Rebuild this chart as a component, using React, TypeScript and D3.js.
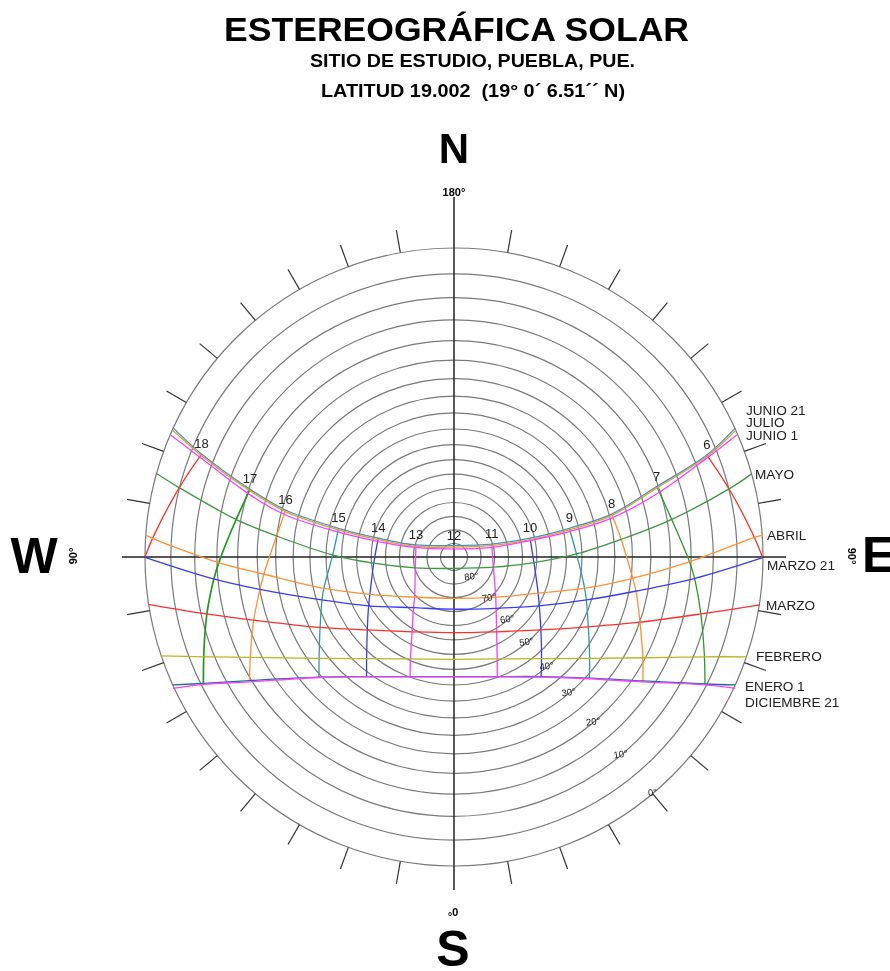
import { curveBasis, curveCatmullRom, line, scaleLinear, select } from 'd3';
import React, { useEffect, useRef } from 'react';

// [hour, x, y], in projection units (outer circle = 100)
// hour is null where the curve just ends on the rim
type Pt = [number | null, number, number];

const junio21: Pt[] = [
  [null, 91.0, 41.7], [6, 81.8, 33.0], [7, 65.6, 22.8], [8, 51.0, 13.9], [9, 37.3, 9.3],
  [10, 24.6, 6.1], [11, 12.2, 4.2], [12, 0, 3.7], [13, -12.3, 3.9], [14, -24.5, 6.1],
  [15, -37.4, 9.3], [16, -54.5, 15.2], [17, -66.0, 21.9], [18, -81.7, 33.3], [null, -90.8, 41.7],
];
const julio: Pt[] = [
  [null, 91.2, 41.0], [6, 81.8, 32.5], [7, 65.6, 22.3], [8, 51.0, 13.4], [9, 37.3, 8.8],
  [10, 24.6, 5.6], [11, 12.2, 3.7], [12, 0, 3.2], [13, -12.3, 3.4], [14, -24.5, 5.6],
  [15, -37.4, 8.8], [16, -54.5, 14.7], [17, -66.0, 21.4], [18, -81.7, 32.8], [null, -91.0, 41.0],
];
const junio1: Pt[] = [
  [null, 91.5, 39.5], [6, 81.8, 32.0], [7, 66.1, 20.7], [8, 51.0, 12.6], [9, 37.3, 8.2],
  [10, 24.6, 5.3], [11, 12.2, 3.1], [12, 0, 2.6], [13, -12.6, 3.1], [14, -24.5, 5.0],
  [15, -38.0, 8.2], [16, -54.5, 13.6], [17, -66.0, 20.1], [18, -82.2, 32.3], [null, -91.7, 39.5],
];
const mayo: Pt[] = [
  [null, 96.3, 26.9], [6, 89.3, 22.2], [7, 70.5, 12.2], [8, 54.3, 5.8], [9, 39.7, 1.0],
  [10, 25.9, -1.8], [11, 12.7, -3.3], [12, 0, -3.7], [13, -12.6, -3.5], [14, -26.1, -2.0],
  [15, -39.1, 0.6], [16, -57.4, 6.8], [17, -70.6, 12.2], [18, -89.2, 22.6], [null, -96.4, 27.1],
];
const abril: Pt[] = [
  [null, 99.9, 7.1], [6, 97.4, 6.4], [7, 76.4, -1.5], [8, 57.8, -6.9], [9, 42.4, -10.1],
  [10, 27.3, -11.7], [11, 13.6, -13.0], [12, 0, -13.4], [13, -12.6, -13.0], [14, -27.2, -12.1],
  [15, -42.3, -10.1], [16, -61.7, -5.5], [17, -76.3, -1.8], [18, -97.8, 6.1], [null, -99.8, 7.1],
];
const marzo21: Pt[] = [
  [6, 99.9, -0.2], [7, 78.0, -6.9], [8, 59.1, -11.0], [9, 42.9, -13.9], [10, 27.6, -15.8],
  [11, 13.6, -16.6], [12, 0, -16.9], [13, -13.2, -16.4], [14, -27.7, -15.8], [15, -42.8, -13.9],
  [16, -62.8, -10.5], [17, -77.8, -7.1], [18, -100.0, -0.1],
];
const marzo: Pt[] = [
  [null, 99.0, -15.5], [7, 80.1, -18.4], [8, 60.2, -21.1], [9, 43.5, -22.6], [10, 28.2, -23.6],
  [11, 13.8, -24.2], [12, 0, -24.5], [13, -13.5, -24.2], [14, -28.1, -23.6], [15, -43.4, -22.8],
  [16, -65.1, -20.4], [17, -80.3, -18.4], [null, -98.9, -15.3],
];
const febrero: Pt[] = [
  [null, 94.7, -32.3], [7, 81.2, -32.3], [8, 61.3, -32.6], [9, 44.0, -32.8], [10, 28.4, -32.9],
  [11, 14.0, -33.0], [12, 0, -33.1], [13, -14.2, -33.0], [14, -28.3, -32.9], [15, -43.7, -32.8],
  [16, -66.0, -32.5], [17, -81.1, -32.3], [null, -94.9, -32.0],
];
const enero1: Pt[] = [
  [null, 91.0, -41.4], [7, 81.2, -41.1], [8, 61.1, -40.1], [9, 43.8, -39.2], [10, 28.2, -38.7],
  [11, 14.0, -38.7], [12, 0, -38.7], [13, -14.2, -38.7], [14, -28.3, -38.7], [15, -43.7, -38.9],
  [16, -66.2, -40.0], [17, -81.1, -40.9], [null, -91.0, -41.4],
];
const diciembre21: Pt[] = [
  [null, 91.0, -42.5], [7, 81.2, -41.4], [8, 61.1, -40.4], [9, 43.8, -39.4], [10, 28.2, -38.9],
  [11, 14.0, -38.8], [12, 0, -38.8], [13, -14.2, -38.8], [14, -28.3, -38.8], [15, -43.7, -39.0],
  [16, -66.2, -40.4], [17, -81.1, -41.2], [null, -91.0, -42.5],
];

const monthNames = ['JUNIO 21', 'JULIO', 'JUNIO 1', 'MAYO', 'ABRIL', 'MARZO 21', 'MARZO', 'FEBRERO', 'ENERO 1', 'DICIEMBRE 21'];
const monthCurves = [junio21, julio, junio1, mayo, abril, marzo21, marzo, febrero, enero1, diciembre21];
const monthColors = ['#4c8fb8', '#d8a23c', '#ff3cff', '#3c9a3c', '#ff9033', '#3a3aff', '#ff2f2f', '#bdb422', '#10709f', '#ff3cff'];
// curves the hour lines run through, top to bottom
const hourCurves = [junio21, mayo, abril, marzo21, marzo, febrero, enero1];

const hours = [6, 7, 8, 9, 10, 11, 13, 14, 15, 16, 17, 18];
const hourLabels = [6, 7, 8, 9, 10, 11, 12, 13, 14, 15, 16, 17, 18];
const hourColors: Record<number, string> = {
  6: '#ff3030', 7: '#2a9a2a', 8: '#ff9033', 9: '#2f9c9c', 10: '#3a3aff', 11: '#ff3cff',
  13: '#ff3cff', 14: '#3a3aff', 15: '#2f9c9c', 16: '#ff9033', 17: '#1f9a1f', 18: '#ff3030',
};

const altitudeRings = [0, 5, 10, 15, 20, 25, 30, 35, 40, 45, 50, 55, 60, 65, 70, 75, 80, 85];
const altitudeLabels = [0, 10, 20, 30, 40, 50, 60, 70, 80];
const azimuthTicks = [10, 20, 30, 40, 50, 60, 70, 80, 100, 110, 120, 130, 140, 150, 160, 170];

const FONT = '"Liberation Sans", Arial, sans-serif';
const width = 890;
const height = 971;
const cx = 454;
const cy = 557;
const R = 309;
// left edge and text centre of the month names, in pixels
const monthLabelPos = [
  [746, 410], [746, 422], [746, 435], [755, 474], [767, 535],
  [767, 565], [766, 605], [756, 656], [745, 686], [745, 702],
];

const App: React.FC = () => {
  const svgRef = useRef<SVGSVGElement>(null);

  useEffect(() => {
    const svg = select(svgRef.current);
    svg.selectAll('*').remove();

    const xScale = scaleLinear().domain([-100, 100]).range([cx - R, cx + R]);
    const yScale = scaleLinear().domain([-100, 100]).range([cy + R, cy - R]);
    const ringRadius = (alt: number) => R * Math.tan((((90 - alt) / 2) * Math.PI) / 180);
    const rad = (deg: number) => (deg * Math.PI) / 180;

    const monthLine = line<Pt>()
      .x((d) => xScale(d[1]))
      .y((d) => yScale(d[2]))
      .curve(curveCatmullRom);
    const hourLine = line<Pt>()
      .x((d) => xScale(d[1]))
      .y((d) => yScale(d[2]))
      .curve(curveBasis);

    // Altitude rings
    svg
      .append('g')
      .selectAll('circle')
      .data(altitudeRings)
      .join('circle')
      .attr('cx', cx)
      .attr('cy', cy)
      .attr('r', (d) => ringRadius(d))
      .attr('fill', 'none')
      .attr('stroke', '#7a7a7a')
      .attr('stroke-width', 1.2);

    // Azimuth ticks, both sides
    svg
      .append('g')
      .selectAll('line')
      .data(azimuthTicks.flatMap((a) => [a, -a]))
      .join('line')
      .attr('x1', (d) => cx + R * Math.sin(rad(d)))
      .attr('y1', (d) => cy + R * Math.cos(rad(d)))
      .attr('x2', (d) => cx + (R + 23) * Math.sin(rad(d)))
      .attr('y2', (d) => cy + (R + 23) * Math.cos(rad(d)))
      .attr('stroke', '#333')
      .attr('stroke-width', 1.2);

    // Cross
    const axes = svg.append('g').attr('stroke', '#222').attr('stroke-width', 1.5);
    axes.append('line').attr('x1', cx).attr('x2', cx).attr('y1', 197).attr('y2', 890);
    axes.append('line').attr('x1', 122).attr('x2', 786).attr('y1', cy).attr('y2', cy);

    // Hour lines
    svg
      .append('g')
      .selectAll('path')
      .data(hours)
      .join('path')
      .attr('fill', 'none')
      .attr('stroke', (h) => hourColors[h])
      .attr('stroke-width', (h) => (h === 17 ? 1.7 : 1.3))
      .attr('d', (h) =>
        hourLine(hourCurves.map((m) => m.find((p) => p[0] === h)).filter(Boolean) as Pt[]),
      );

    // Month curves
    svg
      .append('g')
      .selectAll('path')
      .data(monthCurves)
      .join('path')
      .attr('fill', 'none')
      .attr('stroke', (_, i) => monthColors[i])
      .attr('stroke-width', 1.3)
      .attr('d', (d) => monthLine(d));

    // Hour numbers
    svg
      .append('g')
      .selectAll('text')
      .data(hourLabels)
      .join('text')
      .attr('x', (h) => xScale(junio21.find((p) => p[0] === h)![1]))
      .attr('y', (h) => yScale(junio21.find((p) => p[0] === h)![2]) - 6)
      .attr('text-anchor', 'middle')
      .attr('font-family', FONT)
      .attr('font-size', 13)
      .attr('fill', '#222')
      .text((h) => h);

    // Month names
    svg
      .append('g')
      .selectAll('text')
      .data(monthNames)
      .join('text')
      .attr('x', (_, i) => monthLabelPos[i][0])
      .attr('y', (_, i) => monthLabelPos[i][1])
      .attr('dy', '0.36em')
      .attr('font-family', FONT)
      .attr('font-size', 13.6)
      .attr('fill', '#222')
      .text((d) => d);

    // Altitude labels along azimuth 40
    svg
      .append('g')
      .selectAll('text')
      .data(altitudeLabels)
      .join('text')
      .attr('transform', (d) => {
        const r = ringRadius(d);
        return `translate(${cx + r * Math.sin(rad(40))},${cy + r * Math.cos(rad(40)) - 1.5}) rotate(-8)`;
      })
      .attr('dy', '0.36em')
      .attr('text-anchor', 'middle')
      .attr('font-family', FONT)
      .attr('font-size', 9.5)
      .attr('fill', '#222')
      .text((d) => `${d}°`);

    // Titles
    const bold = (t: string, x: number, y: number, size: number, anchor = 'middle') =>
      svg
        .append('text')
        .attr('x', x)
        .attr('y', y)
        .attr('text-anchor', anchor)
        .attr('font-family', FONT)
        .attr('font-weight', 700)
        .attr('font-size', size)
        .attr('fill', '#000')
        .text(t);

    bold('ESTEREOGRÁFICA SOLAR', 456.5, 41, 33).attr('textLength', 465).attr('lengthAdjust', 'spacingAndGlyphs');
    bold('SITIO DE ESTUDIO, PUEBLA, PUE.', 472.5, 67, 17.5).attr('textLength', 325).attr('lengthAdjust', 'spacingAndGlyphs');
    bold('LATITUD 19.002  (19° 0´ 6.51´´ N)', 473, 97, 17.5).attr('textLength', 304).attr('lengthAdjust', 'spacingAndGlyphs').style('white-space', 'pre');
    bold('N', 454, 163, 42);
    bold('W', 34, 573, 50);
    bold('E', 862, 572, 50, 'start');
    bold('S', 453, 966, 50);
    bold('180°', 454, 196, 11);

    const rotated = (t: string, x: number, y: number, angle: number) =>
      svg
        .append('text')
        .attr('transform', `translate(${x},${y}) rotate(${angle})`)
        .attr('dy', '0.36em')
        .attr('text-anchor', 'middle')
        .attr('font-family', FONT)
        .attr('font-weight', 700)
        .attr('font-size', 11)
        .attr('fill', '#000')
        .text(t);

    rotated('0°', 453, 912, 180);
    rotated('90°', 73, 556, -90);
    rotated('90°', 852, 556, 90);
  }, []);

  return (
    <svg
      ref={svgRef}
      width={width}
      height={height}
      style={{ position: 'absolute', left: 0, top: 0, display: 'block', background: '#fff', filter: 'blur(0.45px)' }}
    />
  );
};

export default App;
